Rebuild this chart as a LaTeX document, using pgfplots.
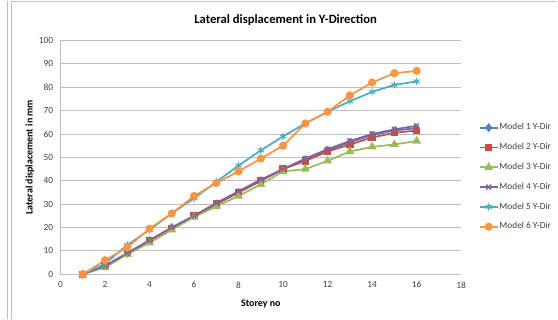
\documentclass[border=0pt]{standalone}
\usepackage{pgfplots}
\pgfplotsset{compat=1.18}
\usepackage{fontspec}
\setmainfont{Carlito}
\usetikzlibrary{plotmarks}
\definecolor{cA}{HTML}{4F81BD}
\definecolor{cB}{HTML}{C0504D}
\definecolor{cC}{HTML}{9BBB59}
\definecolor{cD}{HTML}{8064A2}
\definecolor{cE}{HTML}{4BACC6}
\definecolor{cF}{HTML}{F79646}
\definecolor{gridc}{HTML}{BFBFBF}
\begin{document}
\begin{tikzpicture}
\begin{axis}[
  scale only axis,
  width=300.8pt, height=175.5pt,
  xmin=0, xmax=18, ymin=0, ymax=100,
  xtick={0,2,...,18}, ytick={0,10,...,100},
  axis x line*=bottom, axis y line*=left,
  axis line style={draw=gridc, line width=0.6pt, -},
  major tick length=0pt,
  ymajorgrids, grid style={draw=gridc, line width=0.6pt},
  tick label style={font=\fontsize{7}{8}\selectfont, text=black!75},
  /pgf/number format/assume math mode=true,
  xticklabel style={yshift=-2pt},
  yticklabel style={xshift=-2pt},
  xlabel={Storey no},
  xlabel style={font=\bfseries\fontsize{7.5}{9}\selectfont, at={(axis description cs:0.5,0)}, anchor=center, yshift=-22.5pt},
  ylabel={Lateral displacement in mm},
  every axis y label/.style={font=\bfseries\fontsize{7.5}{9}\selectfont, at={(axis description cs:0,0.5)}, xshift=-22.9pt, anchor=center, rotate=90},
  title={Lateral displacement in Y-Direction},
  title style={font=\bfseries\fontsize{9.5}{11}\selectfont, at={(axis description cs:0,0)}, anchor=center, xshift=169pt, yshift=184.5pt},
  legend style={at={(axis description cs:1,0)}, anchor=north west, xshift=13pt, yshift=114pt, draw=none, fill=none,
    font=\fontsize{7}{8}\selectfont, text=black!75, row sep=7.3pt, inner xsep=0pt, inner ysep=0pt,
    nodes={inner sep=0.6pt}},
  legend cell align=left,
  legend image code/.code={\draw[mark repeat=2,mark phase=2,#1] plot coordinates {(0cm,0cm)(0.24cm,0cm)(0.48cm,0cm)};},
  every axis plot/.append style={line width=1.3pt},
]
\addplot[color=cA, mark=diamond*, mark size=2.4pt, mark options={solid}] coordinates {
(1,0)(2,3.5)(3,9)(4,14.5)(5,20)(6,25)(7,30)(8,35)(9,40)(10,45)(11,49)(12,53)(13,56.5)(14,59.5)(15,61.5)(16,62.5)};
\addlegendentry{Model 1 Y-Dir}
\addplot[color=cB, mark=square*, mark size=2.1pt, mark options={solid}] coordinates {
(1,0)(2,3.5)(3,9)(4,14.5)(5,19.5)(6,25)(7,30)(8,35)(9,40)(10,45)(11,48.5)(12,52.5)(13,55.5)(14,58.5)(15,60.5)(16,61.5)};
\addlegendentry{Model 2 Y-Dir}
\addplot[color=cC, mark=triangle*, mark size=2.6pt, mark options={solid}] coordinates {
(1,0)(2,3)(3,8.5)(4,13.5)(5,19)(6,24.5)(7,29)(8,33.5)(9,38.5)(10,44)(11,45)(12,48.5)(13,52.5)(14,54.5)(15,55.5)(16,57)};
\addlegendentry{Model 3 Y-Dir}
\addplot[color=cD, mark=x, mark size=2.6pt, mark options={solid, line width=1pt}] coordinates {
(1,0)(2,3.5)(3,9)(4,14.5)(5,20)(6,25)(7,30.5)(8,35.5)(9,40.5)(10,45)(11,49.5)(12,53.5)(13,57)(14,60)(15,62)(16,63.5)};
\addlegendentry{Model 4 Y-Dir}
\addplot[color=cE, mark=asterisk, mark size=2.6pt, mark options={solid, line width=0.9pt}] coordinates {
(1,0)(2,4.5)(3,12.5)(4,19)(5,26)(6,32.5)(7,39.5)(8,46.5)(9,53)(10,59)(11,64.5)(12,69.5)(13,74)(14,78)(15,81)(16,82.5)};
\addlegendentry{Model 5 Y-Dir}
\addplot[color=cF, mark=*, mark size=2.4pt, mark options={solid}] coordinates {
(1,0)(2,6)(3,11.5)(4,19.5)(5,26)(6,33.5)(7,39)(8,44)(9,49.5)(10,55)(11,64.5)(12,69.5)(13,76.5)(14,82)(15,86)(16,87)};
\addlegendentry{Model 6 Y-Dir}
\end{axis}
\draw[gridc, line width=0.8pt] (-40.1pt,-33.75pt) -- (-40.1pt,205.5pt);
\draw[gridc, line width=0.8pt] (-36.8pt,-33.75pt) -- (-36.8pt,205.1pt) -- (373.1pt,205.1pt);
\path[use as bounding box] (-45.4pt,-33.75pt) rectangle (373.1pt,205.5pt);
\end{tikzpicture}
\end{document}
